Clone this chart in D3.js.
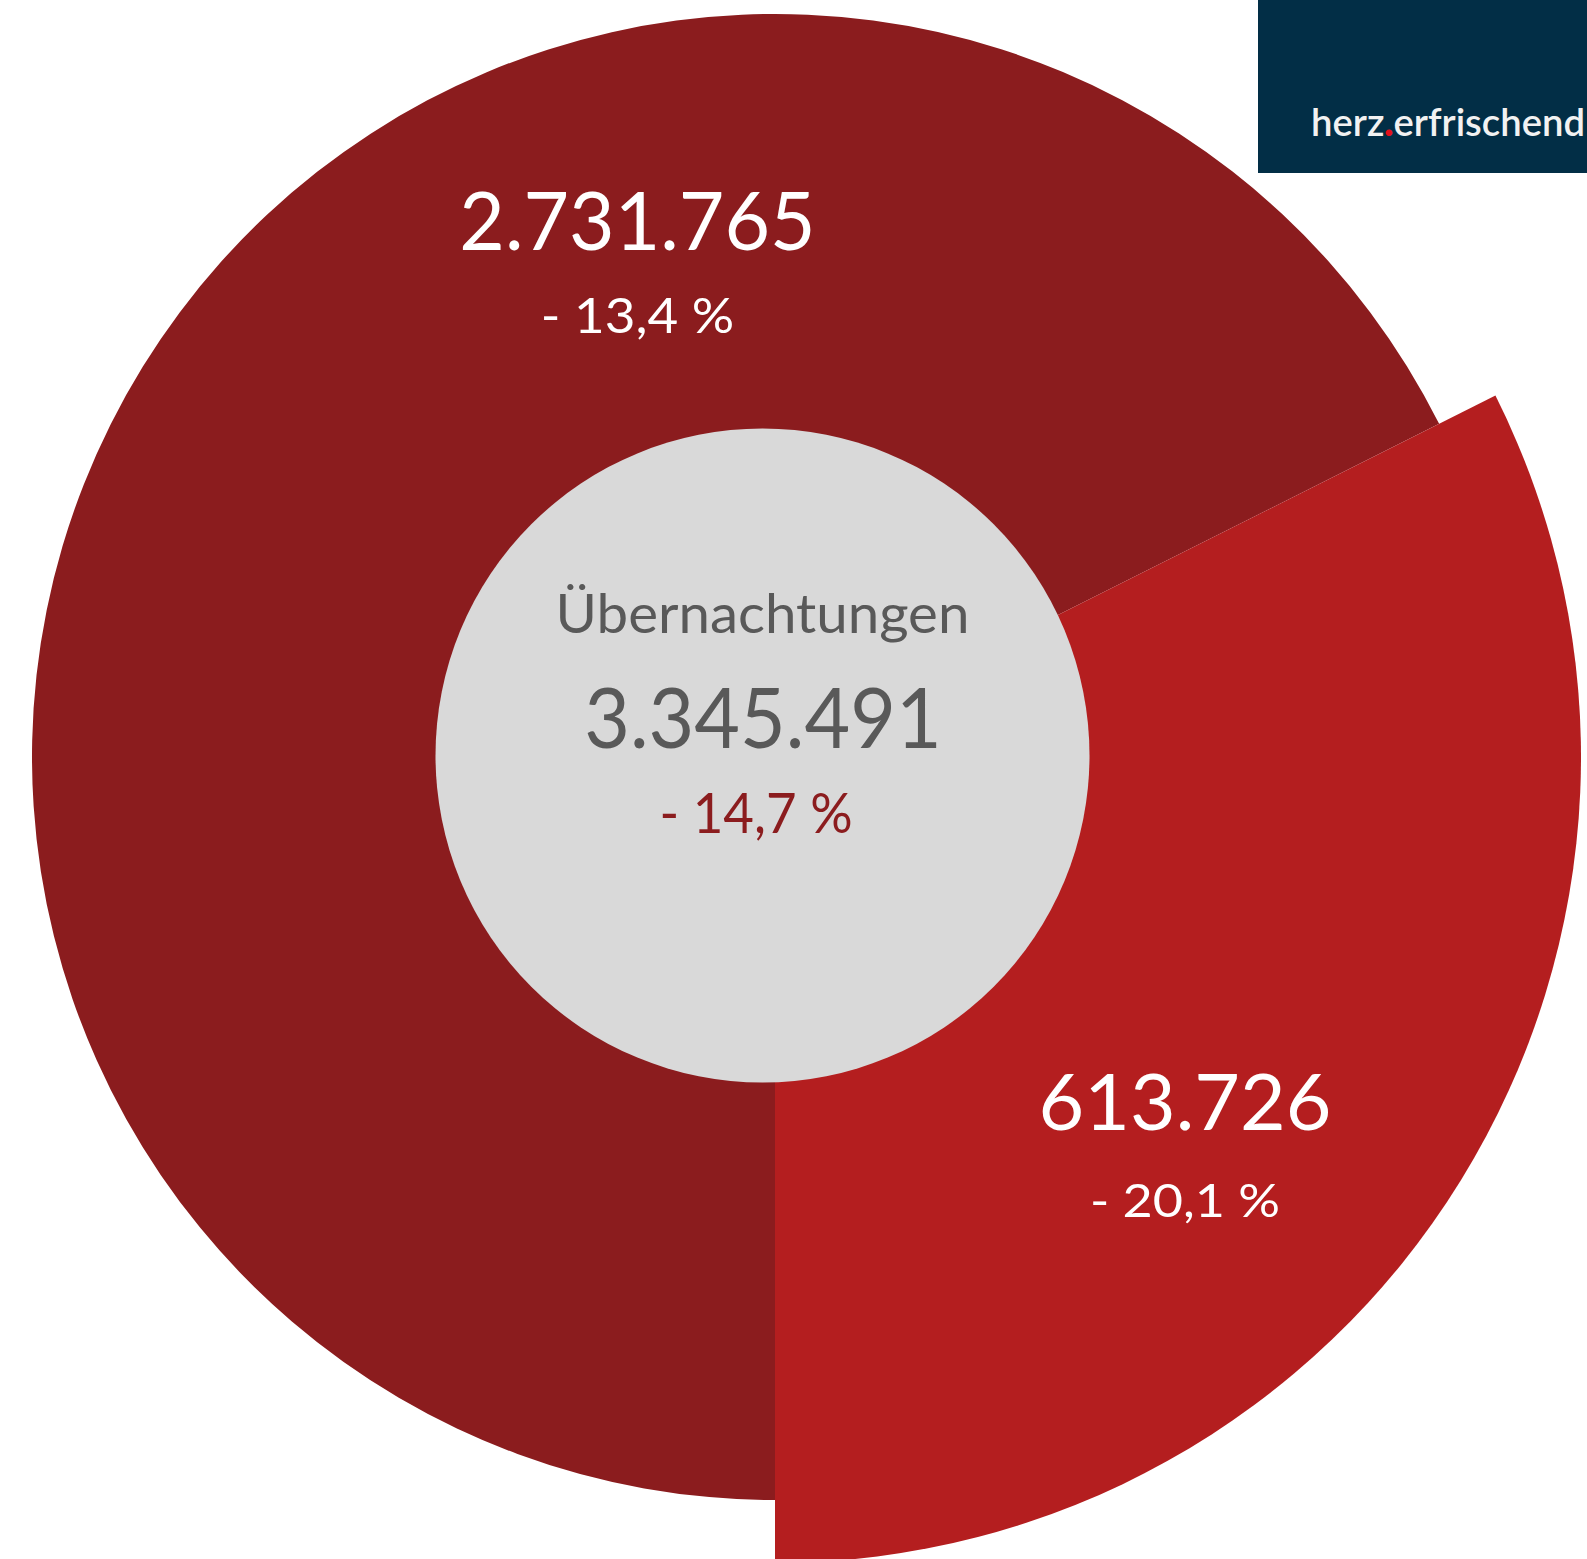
<!DOCTYPE html>
<html>
<head>
<meta charset="utf-8">
<script src="https://cdn.jsdelivr.net/npm/d3@7"></script>
<style>
  html, body { margin: 0; padding: 0; background: #ffffff; overflow: hidden; }
  svg { display: block; }
  text { font-family: Lato, "Open Sans", sans-serif; }
</style>
</head>
<body>
<script>
// ---- data ----
const categories = ["Segment 1", "Segment 2"];
const values = [2731765, 613726];
const changes = [-13.4, -20.1];
const sliceShares = [67.6, 32.4];          // share of the circle as drawn (%)
const centerTitle = "Übernachtungen";
const total = 3345491;
const totalChange = -14.7;
const logoParts = ["herz", ".", "erfrischend"];

// ---- layout / style ----
const W = 1587, H = 1559;
const colors = ["#8B1C1E", "#B41E1F"];
const cx = 775, cy = 757;
const outerR = [743, 806];
const grey = { cx: 762.5, cy: 755.5, r: 327 };

const loc = d3.formatLocale({ decimal: ",", thousands: ".", grouping: [3], currency: ["", "€"] });
const fmtInt = loc.format(",d");
const fmtPct = v => (v < 0 ? "- " : "+ ") + loc.format(",.1f")(Math.abs(v)) + " %";

const svg = d3.select("body").append("svg").attr("width", W).attr("height", H);

svg.append("defs").append("clipPath").attr("id", "plotclip")
  .append("rect").attr("x", 0).attr("y", 13).attr("width", W).attr("height", H);

const pie = d3.pie().sort(null).value(d => d.share)
  .startAngle(Math.PI).endAngle(3 * Math.PI);
const data = categories.map((c, i) => ({ name: c, value: values[i], share: sliceShares[i], i }));
const arcs = pie(data);

const g = svg.append("g").attr("clip-path", "url(#plotclip)")
  .append("g").attr("transform", `translate(${cx},${cy})`);

g.selectAll("path").data(arcs).join("path")
  .attr("d", d => d3.arc().innerRadius(0).outerRadius(outerR[d.data.i])(d))
  .attr("fill", d => colors[d.data.i]);

svg.append("circle").attr("cx", grey.cx).attr("cy", grey.cy).attr("r", grey.r)
  .attr("fill", "#D9D9D9");

// text helper: fontSize from cap height, width fitted to measured ink width
function label(txt, x, baseline, capH, inkW, fill) {
  const fs = capH / 0.717;
  const t = svg.append("text")
    .attr("x", x).attr("y", baseline)
    .attr("text-anchor", "middle")
    .attr("font-size", fs)
    .attr("fill", fill)
    .text(txt);
  if (inkW) {
    t.attr("textLength", inkW + 0.09 * fs).attr("lengthAdjust", "spacingAndGlyphs");
  }
  return t;
}

// slice labels
const labelPos = [
  { x: 637.5, yv: 250, capV: 58, wV: 349, yp: 333, capP: 35, wP: 189 },
  { x: 1185, yv: 1130, capV: 55, wV: 286, yp: 1217, capP: 33, wP: 186 }
];
arcs.forEach(a => {
  const p = labelPos[a.data.i];
  label(fmtInt(a.data.value), p.x, p.yv, p.capV, p.wV, "#ffffff");
  label(fmtPct(changes[a.data.i]), p.x, p.yp, p.capP, p.wP, "#ffffff");
});

// centre texts
label(centerTitle, 762.5, 633, 40 * 0.717 / 0.75, 409, "#595959");
label(fmtInt(total), 763, 748, 60, 350, "#595959");
label(fmtPct(totalChange), 756, 833, 40, 188, colors[0]);

// logo
svg.append("rect").attr("x", 1258).attr("y", 0).attr("width", W - 1258).attr("height", 173)
  .attr("fill", "#022E46");
const lt = svg.append("text").attr("x", 1311).attr("y", 136)
  .attr("font-size", 38).attr("font-weight", 600).attr("fill", "#f2f2f2")
  .attr("font-family", "'Open Sans', sans-serif")
  .attr("textLength", 274).attr("lengthAdjust", "spacingAndGlyphs");
lt.append("tspan").text(logoParts[0]);
lt.append("tspan").attr("fill", "#E3101B").attr("font-weight", 800).text(logoParts[1]);
lt.append("tspan").text(logoParts[2]);
</script>
</body>
</html>
